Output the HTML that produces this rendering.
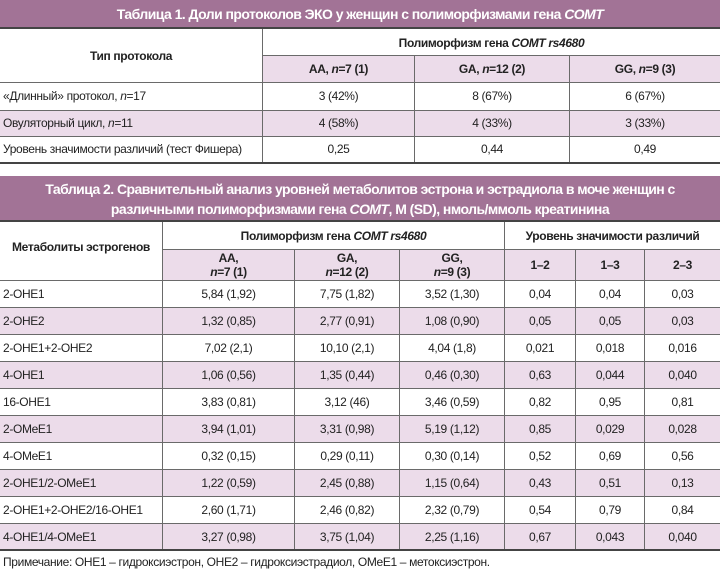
<!DOCTYPE html>
<html><head><meta charset="utf-8"><style>
*{margin:0;padding:0;box-sizing:border-box}
body{width:720px;height:572px;background:#fff;position:relative;overflow:hidden;font-family:"Liberation Sans Narrow","Liberation Sans",sans-serif;font-size:12px;letter-spacing:-0.35px;color:#222}
.a{position:absolute}
.t{background:#a27396;color:#fff;font-weight:bold;font-size:14px;letter-spacing:-0.55px;text-align:center;line-height:20px;white-space:nowrap}
.p{background:#ecdcea}
.c{position:absolute;display:flex;align-items:center;justify-content:center;text-align:center;line-height:14px;white-space:nowrap}
.l{justify-content:flex-start;padding-left:3px}
.b{font-weight:bold}
.hl{position:absolute;left:0;width:720px;height:1px;background:#6a6a6a}
.vl{position:absolute;width:1px;background:#6a6a6a}
.dk{position:absolute;left:0;width:720px;height:2px;background:#444}
</style></head><body>
<!-- Table 1 -->
<div class="a t" style="left:0;top:0;width:720px;height:27px;padding-top:4px">Таблица 1. Доли протоколов ЭКО у женщин с полиморфизмами гена <i>COMT</i></div>
<div class="dk" style="top:27px"></div>
<div class="a p" style="left:263px;top:56px;width:457px;height:26px"></div>
<div class="a p" style="left:0;top:110px;width:720px;height:26px"></div>
<div class="c b" style="left:0;top:29px;width:262px;height:53px">Тип протокола</div>
<div class="c b" style="left:263px;top:29px;width:457px;height:27px">Полиморфизм гена&nbsp;<i>COMT rs4680</i></div>
<div class="c b" style="left:263px;top:56px;width:151px;height:26px">AA,&nbsp;<i>n</i>=7 (1)</div>
<div class="c b" style="left:415px;top:56px;width:154px;height:26px">GA,&nbsp;<i>n</i>=12 (2)</div>
<div class="c b" style="left:570px;top:56px;width:150px;height:26px">GG,&nbsp;<i>n</i>=9 (3)</div>
<div class="c l" style="left:0;top:82px;width:262px;height:28px">«Длинный» протокол,&nbsp;<i>n</i>=17</div>
<div class="c" style="left:263px;top:82px;width:151px;height:28px">3 (42%)</div>
<div class="c" style="left:415px;top:82px;width:154px;height:28px">8 (67%)</div>
<div class="c" style="left:570px;top:82px;width:150px;height:28px">6 (67%)</div>
<div class="c l" style="left:0;top:110px;width:262px;height:26px">Овуляторный цикл,&nbsp;<i>n</i>=11</div>
<div class="c" style="left:263px;top:110px;width:151px;height:26px">4 (58%)</div>
<div class="c" style="left:415px;top:110px;width:154px;height:26px">4 (33%)</div>
<div class="c" style="left:570px;top:110px;width:150px;height:26px">3 (33%)</div>
<div class="c l" style="left:0;top:136px;width:262px;height:26px">Уровень значимости различий (тест Фишера)</div>
<div class="c" style="left:263px;top:136px;width:151px;height:26px">0,25</div>
<div class="c" style="left:415px;top:136px;width:154px;height:26px">0,44</div>
<div class="c" style="left:570px;top:136px;width:150px;height:26px">0,49</div>
<div class="hl" style="top:55px;left:263px;width:457px"></div>
<div class="hl" style="top:82px"></div>
<div class="hl" style="top:110px"></div>
<div class="hl" style="top:136px"></div>
<div class="dk" style="top:162px"></div>
<div class="vl" style="left:262px;top:29px;height:133px"></div>
<div class="vl" style="left:414px;top:56px;height:106px"></div>
<div class="vl" style="left:569px;top:56px;height:106px"></div>

<!-- Table 2 -->
<div class="a t" style="left:0;top:176px;width:720px;height:45px;padding-top:3px">Таблица 2. Сравнительный анализ уровней метаболитов эстрона и эстрадиола в моче женщин с<br>различными полиморфизмами гена <i>COMT</i>, M (SD), нмоль/ммоль креатинина</div>
<div class="dk" style="top:220px"></div>
<div class="a p" style="left:163px;top:250px;width:557px;height:30px"></div>
<div class="a p" style="left:0;top:308px;width:720px;height:26px"></div>
<div class="a p" style="left:0;top:362px;width:720px;height:26px"></div>
<div class="a p" style="left:0;top:416px;width:720px;height:26px"></div>
<div class="a p" style="left:0;top:470px;width:720px;height:26px"></div>
<div class="a p" style="left:0;top:524px;width:720px;height:26px"></div>
<div class="c b" style="left:0;top:222px;width:162px;height:50px">Метаболиты эстрогенов</div>
<div class="c b" style="left:163px;top:222px;width:341px;height:27px">Полиморфизм гена&nbsp;<i>COMT rs4680</i></div>
<div class="c b" style="left:505px;top:222px;width:215px;height:27px">Уровень значимости различий</div>
<div class="c b" style="left:163px;top:250px;width:131px;height:30px"><div>AA,<br><i>n</i>=7 (1)</div></div>
<div class="c b" style="left:295px;top:250px;width:104px;height:30px"><div>GA,<br><i>n</i>=12 (2)</div></div>
<div class="c b" style="left:400px;top:250px;width:104px;height:30px"><div>GG,<br><i>n</i>=9 (3)</div></div>
<div class="c b" style="left:505px;top:250px;width:70px;height:30px">1–2</div>
<div class="c b" style="left:576px;top:250px;width:68px;height:30px">1–3</div>
<div class="c b" style="left:645px;top:250px;width:75px;height:30px">2–3</div>
<div class="hl" style="top:249px;left:163px;width:557px"></div>
<div class="hl" style="top:280px"></div>
<div class="vl" style="left:162px;top:222px;height:328px"></div>
<div class="vl" style="left:294px;top:250px;height:300px"></div>
<div class="vl" style="left:399px;top:250px;height:300px"></div>
<div class="vl" style="left:504px;top:222px;height:328px"></div>
<div class="vl" style="left:575px;top:250px;height:300px"></div>
<div class="vl" style="left:644px;top:250px;height:300px"></div>
<div class="hl" style="top:307px"></div><div class="hl" style="top:334px"></div><div class="hl" style="top:361px"></div><div class="hl" style="top:388px"></div><div class="hl" style="top:415px"></div><div class="hl" style="top:442px"></div><div class="hl" style="top:469px"></div><div class="hl" style="top:496px"></div><div class="hl" style="top:523px"></div>
<div class="dk" style="top:549px"></div>

<div class="c l" style="left:0;top:280px;width:162px;height:27px">2-OHE1</div><div class="c" style="left:163px;top:280px;width:131px;height:27px">5,84 (1,92)</div><div class="c" style="left:295px;top:280px;width:104px;height:27px">7,75 (1,82)</div><div class="c" style="left:400px;top:280px;width:104px;height:27px">3,52 (1,30)</div><div class="c" style="left:505px;top:280px;width:70px;height:27px">0,04</div><div class="c" style="left:576px;top:280px;width:68px;height:27px">0,04</div><div class="c" style="left:645px;top:280px;width:75px;height:27px">0,03</div>
<div class="c l" style="left:0;top:307px;width:162px;height:27px">2-OHE2</div><div class="c" style="left:163px;top:307px;width:131px;height:27px">1,32 (0,85)</div><div class="c" style="left:295px;top:307px;width:104px;height:27px">2,77 (0,91)</div><div class="c" style="left:400px;top:307px;width:104px;height:27px">1,08 (0,90)</div><div class="c" style="left:505px;top:307px;width:70px;height:27px">0,05</div><div class="c" style="left:576px;top:307px;width:68px;height:27px">0,05</div><div class="c" style="left:645px;top:307px;width:75px;height:27px">0,03</div>
<div class="c l" style="left:0;top:334px;width:162px;height:27px">2-OHE1+2-OHE2</div><div class="c" style="left:163px;top:334px;width:131px;height:27px">7,02 (2,1)</div><div class="c" style="left:295px;top:334px;width:104px;height:27px">10,10 (2,1)</div><div class="c" style="left:400px;top:334px;width:104px;height:27px">4,04 (1,8)</div><div class="c" style="left:505px;top:334px;width:70px;height:27px">0,021</div><div class="c" style="left:576px;top:334px;width:68px;height:27px">0,018</div><div class="c" style="left:645px;top:334px;width:75px;height:27px">0,016</div>
<div class="c l" style="left:0;top:361px;width:162px;height:27px">4-OHE1</div><div class="c" style="left:163px;top:361px;width:131px;height:27px">1,06 (0,56)</div><div class="c" style="left:295px;top:361px;width:104px;height:27px">1,35 (0,44)</div><div class="c" style="left:400px;top:361px;width:104px;height:27px">0,46 (0,30)</div><div class="c" style="left:505px;top:361px;width:70px;height:27px">0,63</div><div class="c" style="left:576px;top:361px;width:68px;height:27px">0,044</div><div class="c" style="left:645px;top:361px;width:75px;height:27px">0,040</div>
<div class="c l" style="left:0;top:388px;width:162px;height:27px">16-OHE1</div><div class="c" style="left:163px;top:388px;width:131px;height:27px">3,83 (0,81)</div><div class="c" style="left:295px;top:388px;width:104px;height:27px">3,12 (46)</div><div class="c" style="left:400px;top:388px;width:104px;height:27px">3,46 (0,59)</div><div class="c" style="left:505px;top:388px;width:70px;height:27px">0,82</div><div class="c" style="left:576px;top:388px;width:68px;height:27px">0,95</div><div class="c" style="left:645px;top:388px;width:75px;height:27px">0,81</div>
<div class="c l" style="left:0;top:415px;width:162px;height:27px">2-OMeE1</div><div class="c" style="left:163px;top:415px;width:131px;height:27px">3,94 (1,01)</div><div class="c" style="left:295px;top:415px;width:104px;height:27px">3,31 (0,98)</div><div class="c" style="left:400px;top:415px;width:104px;height:27px">5,19 (1,12)</div><div class="c" style="left:505px;top:415px;width:70px;height:27px">0,85</div><div class="c" style="left:576px;top:415px;width:68px;height:27px">0,029</div><div class="c" style="left:645px;top:415px;width:75px;height:27px">0,028</div>
<div class="c l" style="left:0;top:442px;width:162px;height:27px">4-OMeE1</div><div class="c" style="left:163px;top:442px;width:131px;height:27px">0,32 (0,15)</div><div class="c" style="left:295px;top:442px;width:104px;height:27px">0,29 (0,11)</div><div class="c" style="left:400px;top:442px;width:104px;height:27px">0,30 (0,14)</div><div class="c" style="left:505px;top:442px;width:70px;height:27px">0,52</div><div class="c" style="left:576px;top:442px;width:68px;height:27px">0,69</div><div class="c" style="left:645px;top:442px;width:75px;height:27px">0,56</div>
<div class="c l" style="left:0;top:469px;width:162px;height:27px">2-OHE1/2-OMeE1</div><div class="c" style="left:163px;top:469px;width:131px;height:27px">1,22 (0,59)</div><div class="c" style="left:295px;top:469px;width:104px;height:27px">2,45 (0,88)</div><div class="c" style="left:400px;top:469px;width:104px;height:27px">1,15 (0,64)</div><div class="c" style="left:505px;top:469px;width:70px;height:27px">0,43</div><div class="c" style="left:576px;top:469px;width:68px;height:27px">0,51</div><div class="c" style="left:645px;top:469px;width:75px;height:27px">0,13</div>
<div class="c l" style="left:0;top:496px;width:162px;height:27px">2-OHE1+2-OHE2/16-OHE1</div><div class="c" style="left:163px;top:496px;width:131px;height:27px">2,60 (1,71)</div><div class="c" style="left:295px;top:496px;width:104px;height:27px">2,46 (0,82)</div><div class="c" style="left:400px;top:496px;width:104px;height:27px">2,32 (0,79)</div><div class="c" style="left:505px;top:496px;width:70px;height:27px">0,54</div><div class="c" style="left:576px;top:496px;width:68px;height:27px">0,79</div><div class="c" style="left:645px;top:496px;width:75px;height:27px">0,84</div>
<div class="c l" style="left:0;top:523px;width:162px;height:27px">4-OHE1/4-OMeE1</div><div class="c" style="left:163px;top:523px;width:131px;height:27px">3,27 (0,98)</div><div class="c" style="left:295px;top:523px;width:104px;height:27px">3,75 (1,04)</div><div class="c" style="left:400px;top:523px;width:104px;height:27px">2,25 (1,16)</div><div class="c" style="left:505px;top:523px;width:70px;height:27px">0,67</div><div class="c" style="left:576px;top:523px;width:68px;height:27px">0,043</div><div class="c" style="left:645px;top:523px;width:75px;height:27px">0,040</div>

<div class="a" style="left:3px;top:555px;line-height:14px;white-space:nowrap">Примечание: OHE1 – гидроксиэстрон, OHE2 – гидроксиэстрадиол, OMeE1 – метоксиэстрон.</div>
</body></html>
